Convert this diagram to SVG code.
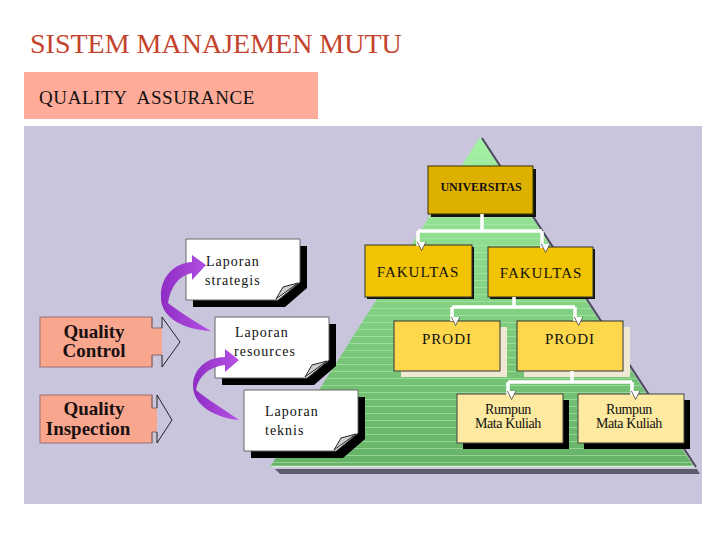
<svg xmlns="http://www.w3.org/2000/svg" xmlns:xlink="http://www.w3.org/1999/xlink" width="720" height="540" viewBox="0 0 720 540">
<defs>
<style>
.serif{font-family:"Liberation Serif","Times New Roman",serif;}
.lbl{font-family:"Liberation Serif","Times New Roman",serif;fill:#111;text-anchor:middle;}
.q{font-family:"Liberation Serif","Times New Roman",serif;font-weight:bold;font-size:19px;fill:#1a1010;text-anchor:middle;}
.lap{font-family:"Liberation Serif","Times New Roman",serif;font-size:14px;fill:#111;letter-spacing:1px;}
.conn{stroke:#fff;stroke-width:3.5;fill:none;}
.salmon{fill:#f9a68f;stroke:#9a6e6e;stroke-width:1;}
.head{fill:none;stroke:#222;stroke-width:1;}
.purple{fill:url(#pg);}
</style>
<linearGradient id="pyr" x1="0" y1="137" x2="0" y2="467" gradientUnits="userSpaceOnUse">
<stop offset="0" stop-color="#a2f2a2"/>
<stop offset="0.45" stop-color="#86d486"/>
<stop offset="1" stop-color="#66b266"/>
</linearGradient>
<linearGradient id="pg" x1="0" y1="0" x2="1" y2="0">
<stop offset="0" stop-color="#8f2cc4"/>
<stop offset="1" stop-color="#b652e4"/>
</linearGradient>
<pattern id="stripes" width="8" height="7" patternUnits="userSpaceOnUse">
<line x1="0" y1="0.5" x2="8" y2="0.5" stroke="#b4ecb4" stroke-width="1" opacity="0.55"/>
</pattern>
<clipPath id="pyrclip"><polygon points="480,137 694,467 270,467"/></clipPath>
<marker id="ah" viewBox="0 0 10 10" refX="5" refY="9" markerWidth="9" markerHeight="9" markerUnits="userSpaceOnUse" orient="auto-start-reverse">
<path d="M0,0 L10,0 L5,10 Z" transform="rotate(-90 5 5)" fill="#fff" stroke="#333" stroke-width="0.8"/>
</marker>
<g id="page">
<path d="M7,7 H121 V49 L99,68 H7 Z" fill="#000"/>
<path d="M0,0 H114 V43 L92,61 H0 Z" fill="#fff" stroke="#666" stroke-width="1"/>
<path d="M90,60 L97,48 L112,44 Z" fill="#cfcfcf" stroke="#222" stroke-width="1"/>
</g>
</defs>

<rect width="720" height="540" fill="#fff"/>

<!-- Title -->
<text x="30" y="53" class="serif" font-size="28" fill="#c4432c">SISTEM MANAJEMEN MUTU</text>

<!-- Quality assurance banner -->
<g id="quality-assurance">
<rect x="24" y="72" width="294" height="47" fill="#ffab99"/>
<text x="39" y="104" class="serif" font-size="19" letter-spacing="0.6" fill="#111" xml:space="preserve">QUALITY  ASSURANCE</text>
</g>

<!-- Panel -->
<rect x="24" y="126" width="678" height="378" fill="#c9c5dc"/>

<!-- Pyramid -->
<g id="pyramid">
<polygon points="275,469 697,469 700,474 280,474" fill="#5c5c6c"/>
<polygon points="480,137 694,467 270,467" fill="url(#pyr)"/>
<rect x="260" y="137" width="440" height="332" fill="url(#stripes)" clip-path="url(#pyrclip)"/>
<line x1="482" y1="138" x2="696" y2="467" stroke="#4a4a5a" stroke-width="2"/>
<line x1="271" y1="466.5" x2="694" y2="466.5" stroke="#d8f0d8" stroke-width="1.5"/>
</g>

<!-- Hierarchy nodes -->
<g id="universitas">
<rect x="431" y="169" width="105" height="48" fill="#111"/>
<rect x="428" y="166" width="105" height="48" fill="#deb000" stroke="#3a3000" stroke-width="1"/>
<text x="481" y="191" class="lbl" font-size="12" font-weight="bold">UNIVERSITAS</text>
</g>
<g id="fakultas-1">
<rect x="367" y="247" width="107" height="52" fill="#111"/>
<rect x="365" y="245" width="107" height="52" fill="#f2c300" stroke="#333" stroke-width="1"/>
<text x="418" y="277" class="lbl" font-size="15" letter-spacing="1">FAKULTAS</text>
</g>
<g id="fakultas-2">
<rect x="490" y="249" width="105" height="50" fill="#111"/>
<rect x="488" y="247" width="105" height="50" fill="#f2c300" stroke="#333" stroke-width="1"/>
<text x="541" y="278" class="lbl" font-size="15" letter-spacing="1">FAKULTAS</text>
</g>
<g id="prodi-1">
<rect x="401" y="327" width="106" height="50" fill="#efe9d3"/>
<rect x="394" y="321" width="106" height="50" fill="#fdd84c" stroke="#333" stroke-width="1"/>
<text x="447" y="344" class="lbl" font-size="15" letter-spacing="1">PRODI</text>
</g>
<g id="prodi-2">
<rect x="524" y="327" width="106" height="50" fill="#efe9d3"/>
<rect x="517" y="321" width="106" height="50" fill="#fdd84c" stroke="#333" stroke-width="1"/>
<text x="570" y="344" class="lbl" font-size="15" letter-spacing="1">PRODI</text>
</g>
<g id="rumpun-1">
<rect x="463" y="400" width="106" height="49" fill="#000"/>
<rect x="457" y="394" width="106" height="49" fill="#fde9a0" stroke="#444" stroke-width="1"/>
<text x="508" y="414" class="lbl" font-size="14" letter-spacing="-0.4">Rumpun</text>
<text x="508" y="428" class="lbl" font-size="14" letter-spacing="-0.4">Mata Kuliah</text>
</g>
<g id="rumpun-2">
<rect x="584" y="400" width="106" height="49" fill="#000"/>
<rect x="578" y="394" width="106" height="49" fill="#fde9a0" stroke="#444" stroke-width="1"/>
<text x="629" y="414" class="lbl" font-size="14" letter-spacing="-0.4">Rumpun</text>
<text x="629" y="428" class="lbl" font-size="14" letter-spacing="-0.4">Mata Kuliah</text>
</g>

<!-- Report pages -->
<g id="laporan-strategis">
<use xlink:href="#page" href="#page" transform="translate(186,239)"/>
<text x="206" y="266" class="lap">Laporan</text>
<text x="205" y="285" class="lap" letter-spacing="0.5">strategis</text>
</g>
<g id="laporan-resources">
<use xlink:href="#page" href="#page" transform="translate(215,317)"/>
<text x="235" y="337" class="lap">Laporan</text>
<text x="234" y="356" class="lap">resources</text>
</g>
<g id="laporan-teknis">
<use xlink:href="#page" href="#page" transform="translate(244,390)"/>
<text x="265" y="416" class="lap">Laporan</text>
<text x="265" y="435" class="lap" letter-spacing="0.5">teknis</text>
</g>

<!-- Quality block arrows -->
<g id="quality-control">
<rect class="salmon" x="40" y="317" width="112" height="50"/>
<path d="M151,328 H162 V355 H151 Z" fill="#f9a68f"/>
<path d="M152,317 V328 H162 M162,355 H152 V367" fill="none" stroke="#8a6a6a" stroke-width="1"/>
<path class="head" d="M162,328 V317 L180,342 L162,367 V355"/>
<text x="94" y="338" class="q">Quality</text>
<text x="94" y="357" class="q">Control</text>
</g>
<g id="quality-inspection">
<rect class="salmon" x="40" y="395" width="112" height="48"/>
<path d="M151,408 H157 V432 H151 Z" fill="#f9a68f"/>
<path d="M152,395 V408 H157 M157,432 H152 V443" fill="none" stroke="#8a6a6a" stroke-width="1"/>
<path class="head" d="M157,408 V395 L172,420 L157,443 V432"/>
<text x="94" y="415" class="q">Quality</text>
<text x="88" y="435" class="q">Inspection</text>
</g>

<!-- Connectors -->
<g id="connectors">
<path class="conn" d="M482,214 V231 M418,231 H542 M514,297 V307 M452,307 H575 M572,371 V382 M508,382 H632"/>
<path class="conn" d="M418,231 V246" marker-end="url(#ah)"/>
<path class="conn" d="M542,231 V248" marker-end="url(#ah)"/>
<path class="conn" d="M452,307 V321" marker-end="url(#ah)"/>
<path class="conn" d="M575,307 V321" marker-end="url(#ah)"/>
<path class="conn" d="M508,382 V395" marker-end="url(#ah)"/>
<path class="conn" d="M632,382 V395" marker-end="url(#ah)"/>
<path class="purple" d="M206,265 L192,255 L192,262 C175,263 160,276 161,298 C161,318 185,330 211,331 C195,322 180,312 168,303 C170,288 178,276 192,273 L192,280 Z"/>
<path class="purple" d="M239,360 L225,349 L225,357 C208,357 193,368 193,386 C193,405 215,418 239,420 C225,410 208,400 196,390 C198,377 208,367 225,365 L225,372 Z"/>
</g>
</svg>
